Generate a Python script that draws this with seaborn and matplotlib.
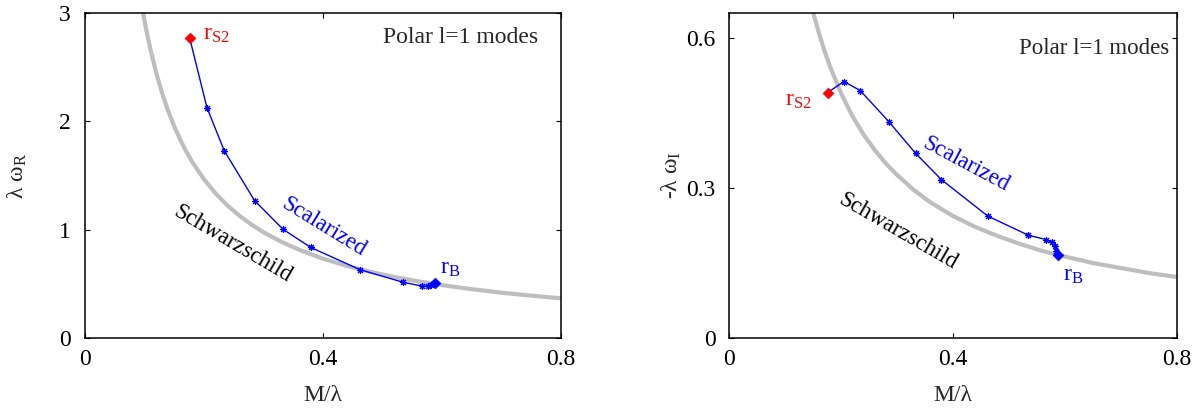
import matplotlib
matplotlib.use("Agg")
import matplotlib.pyplot as plt
import seaborn as sns
import pandas as pd
from matplotlib.ticker import FixedLocator, FixedFormatter

# ---------------- data ----------------
schw_x = [0.095, 0.1, 0.105, 0.11, 0.12, 0.13, 0.14, 0.15, 0.16, 0.17, 0.18, 0.2,
          0.22, 0.24, 0.26, 0.28, 0.3, 0.33, 0.36, 0.4, 0.44, 0.48, 0.52, 0.56,
          0.6, 0.65, 0.7, 0.75, 0.8]
schw_wr = [3.083, 2.929, 2.790, 2.663, 2.441, 2.253, 2.092, 1.953, 1.831, 1.723,
           1.627, 1.465, 1.331, 1.220, 1.127, 1.046, 0.976, 0.888, 0.814, 0.732,
           0.666, 0.610, 0.563, 0.523, 0.488, 0.451, 0.418, 0.391, 0.366]
schw_wi = [1.028, 0.977, 0.930, 0.888, 0.814, 0.752, 0.698, 0.651, 0.611, 0.575,
           0.543, 0.489, 0.444, 0.407, 0.376, 0.349, 0.326, 0.296, 0.271, 0.244,
           0.222, 0.204, 0.188, 0.174, 0.163, 0.150, 0.140, 0.130, 0.122]

scal_x = [0.176, 0.205, 0.234, 0.285, 0.333, 0.379, 0.462, 0.535, 0.566, 0.577,
          0.582, 0.585, 0.5875]
scal_wr = [2.767, 2.126, 1.729, 1.268, 1.003, 0.837, 0.631, 0.514, 0.480, 0.480,
           0.486, 0.494, 0.505]
scal_wi = [0.491, 0.513, 0.495, 0.433, 0.3695, 0.317, 0.244, 0.2054, 0.197, 0.192,
           0.185, 0.175, 0.166]

xticks = [0, 0.4, 0.8]
xticklabels = ["0", "0.4", "0.8"]
yticks_left = [0, 1, 2, 3]
yticklabels_left = ["0", "1", "2", "3"]
yticks_right = [0, 0.3, 0.6]
yticklabels_right = ["0", "0.3", "0.6"]

# ---------------- style ----------------
sns.set_theme(style="ticks")
plt.rcParams.update({
    "font.family": ["Liberation Serif", "DejaVu Serif"],
    "mathtext.fontset": "custom",
    "mathtext.rm": "Liberation Serif",
    "mathtext.it": "Liberation Serif:italic",
    "mathtext.bf": "Liberation Serif:bold",
    "axes.linewidth": 1.1,
    "axes.edgecolor": "black",
})

FS = 17
FS_CURVE = 16.5
GRAY = "#bebebe"
BLUE = "#0000ff"
RED = "#ff0000"

fig = plt.figure(figsize=(12.01, 4.09), dpi=100)
axL = fig.add_axes([85 / 1201, 1 - 338 / 409, 476 / 1201, 325 / 409])
axR = fig.add_axes([729.3 / 1201, 1 - 338 / 409, 447.4 / 1201, 325 / 409])

schw = pd.DataFrame({"x": schw_x, "wr": schw_wr, "wi": schw_wi})
scal = pd.DataFrame({"x": scal_x, "wr": scal_wr, "wi": scal_wi})

for ax, col, ylim, yt, ytl in [
    (axL, "wr", (0, 3), yticks_left, yticklabels_left),
    (axR, "wi", (0, 0.65), yticks_right, yticklabels_right),
]:
    sns.lineplot(data=schw, x="x", y=col, ax=ax, sort=False, estimator=None,
                 color=GRAY, linewidth=3.0, zorder=1)
    sns.lineplot(data=scal, x="x", y=col, ax=ax, sort=False, estimator=None,
                 color=BLUE, linewidth=1.0, marker=(8, 2, 0), markersize=5,
                 markeredgecolor=BLUE, markeredgewidth=0.8, zorder=2)
    sns.scatterplot(x=[scal_x[0]], y=[scal[col].iloc[0]], ax=ax, marker="D",
                    s=30, color=RED, edgecolor=RED, linewidth=0.5, zorder=3)
    sns.scatterplot(x=[scal_x[-1]], y=[scal[col].iloc[-1]], ax=ax, marker="D",
                    s=30, color=BLUE, edgecolor=BLUE, linewidth=0.5, zorder=3)

    ax.set_xlim(0, 0.8)
    ax.set_ylim(*ylim)
    ax.xaxis.set_major_locator(FixedLocator(xticks))
    ax.xaxis.set_major_formatter(FixedFormatter(xticklabels))
    ax.yaxis.set_major_locator(FixedLocator(yt))
    ax.yaxis.set_major_formatter(FixedFormatter(ytl))
    ax.tick_params(axis="both", which="major", direction="in", top=True,
                   right=True, length=3.6, width=0.8, labelsize=FS, colors="black")
    ax.tick_params(axis="x", pad=8)
    ax.tick_params(axis="y", pad=10)
    for s in ax.spines.values():
        s.set_visible(True)
        s.set_color("black")
    ax.set_xlabel("M/λ", fontsize=FS)
    ax.xaxis.set_label_coords(0.5, -0.145)

# Left panel texts
axL.set_ylabel("λ ω$_\\mathrm{R}$", fontsize=FS)
axL.yaxis.set_label_coords(-0.118, 0.5)
axL.text(0.788, 0.926, "Polar l=1 modes", transform=axL.transAxes,
         ha="center", va="center", fontsize=FS)
axL.text(0.198, 2.80, "r$_\\mathrm{S2}$", color=RED, fontsize=FS,
         ha="left", va="center")
axL.text(0.5966, 0.646, "r$_\\mathrm{B}$", color=BLUE, fontsize=FS,
         ha="left", va="center")
axL.text(0.2487, 0.87, "Schwarzschild", color="black", fontsize=FS_CURVE,
         rotation=-30.5, ha="center", va="center", rotation_mode="anchor")
axL.text(0.4017, 1.02, "Scalarized", color=BLUE, fontsize=FS_CURVE,
         rotation=-31.5, ha="center", va="center", rotation_mode="anchor")

# Right panel texts
axR.set_ylabel("-λ ω$_\\mathrm{I}$", fontsize=FS)
axR.yaxis.set_label_coords(-0.103, 0.5)
axR.text(0.815, 0.891, "Polar l=1 modes", transform=axR.transAxes,
         ha="center", va="center", fontsize=16.5)
axR.text(0.0996, 0.476, "r$_\\mathrm{S2}$", color=RED, fontsize=FS,
         ha="left", va="center")
axR.text(0.5967, 0.126, "r$_\\mathrm{B}$", color=BLUE, fontsize=FS,
         ha="left", va="center")
axR.text(0.302, 0.212, "Schwarzschild", color="black", fontsize=FS_CURVE,
         rotation=-30, ha="center", va="center", rotation_mode="anchor")
axR.text(0.4238, 0.348, "Scalarized", color=BLUE, fontsize=FS_CURVE,
         rotation=-28, ha="center", va="center", rotation_mode="anchor")

fig.savefig("out.png", dpi=100)
